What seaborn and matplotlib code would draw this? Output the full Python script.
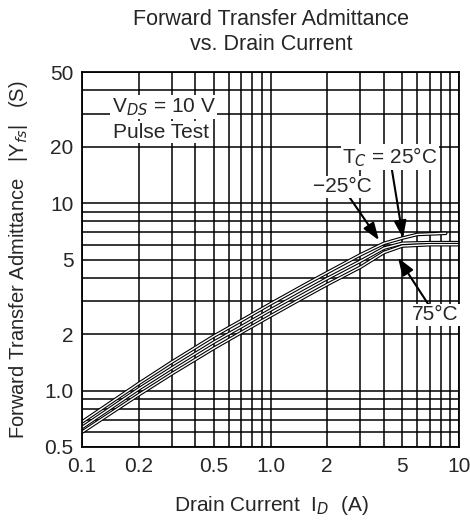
import numpy as np
import pandas as pd
import matplotlib
matplotlib.use("Agg")
import matplotlib.pyplot as plt
import matplotlib.patheffects as pe
import matplotlib.ticker as mticker
import seaborn as sns

# Drain current (A) and |Yfs| (S) per case temperature
id_main = [0.1, 0.2, 0.3, 0.5, 0.7, 1.0, 1.5, 2.0, 3.0, 4.0, 5.0, 7.0, 10.0]
yfs_25 = [0.635, 1.02, 1.32, 1.81, 2.19, 2.69, 3.38, 3.96, 4.9, 5.75, 6.1, 6.15, 6.15]
yfs_75 = [0.60, 0.95, 1.23, 1.68, 2.04, 2.5, 3.14, 3.68, 4.55, 5.45, 5.9, 6.0, 6.0]
id_cold = [0.1, 0.2, 0.3, 0.5, 0.7, 1.0, 1.5, 2.0, 3.0, 4.0, 5.0, 6.0, 8.5]
yfs_m25 = [0.68, 1.09, 1.42, 1.95, 2.36, 2.9, 3.64, 4.26, 5.3, 6.1, 6.5, 6.8, 6.9]

xticks = [0.1, 0.2, 0.5, 1.0, 2, 5, 10]
xtick_labels = ["0.1", "0.2", "0.5", "1.0", "2", "5", "10"]
yticks = [0.5, 1.0, 2, 5, 10, 20, 50]
ytick_labels = ["0.5", "1.0", "2", "5", "10", "20", "50"]

df = pd.concat([
    pd.DataFrame({"id": id_cold, "yfs": yfs_m25, "tc": "-25"}),
    pd.DataFrame({"id": id_main, "yfs": yfs_25, "tc": "25"}),
    pd.DataFrame({"id": id_main, "yfs": yfs_75, "tc": "75"}),
])

sns.set_style("white")
plt.rcParams["font.family"] = ["Liberation Sans", "DejaVu Sans"]
FS = 15

fig = plt.figure(figsize=(4.7, 5.22), dpi=100)
ax = fig.add_axes([82 / 470, 75 / 522, 377 / 470, 375 / 522])

ax.set_xscale("log")
ax.set_yscale("log")
ax.set_xlim(0.1, 10)
ax.set_ylim(0.5, 50)

# hollow-looking curves: white core over a black stroke
hollow = [pe.Stroke(linewidth=2.6, foreground="black"), pe.Normal()]
for tc in ["-25", "25", "75"]:
    d = df[df["tc"] == tc]
    sns.lineplot(data=d, x="id", y="yfs", ax=ax, color="white", lw=1.0,
                 estimator=None, sort=False, legend=False, path_effects=hollow)

for s in ax.spines.values():
    s.set_color("black")
    s.set_linewidth(1.3)

ax.set_xticks(xticks)
ax.set_xticklabels(xtick_labels)
ax.set_yticks(yticks)
ax.set_yticklabels(ytick_labels)
ax.xaxis.set_minor_locator(mticker.LogLocator(subs=np.arange(2, 10)))
ax.yaxis.set_minor_locator(mticker.LogLocator(subs=np.arange(2, 10)))
ax.xaxis.set_minor_formatter(mticker.NullFormatter())
ax.yaxis.set_minor_formatter(mticker.NullFormatter())
ax.tick_params(which="both", length=0, labelsize=FS)
ax.tick_params(axis="x", pad=7)
ax.tick_params(axis="y", pad=6)
ax.grid(True, which="both", color="black", lw=1.1)
ax.set_axisbelow(True)

ax.set_xlabel("Drain Current  I$_D$  (A)", fontsize=FS)
ax.set_ylabel("Forward Transfer Admittance   |Y$_{fs}$|   (S)", fontsize=14.5)
ax.xaxis.set_label_coords(0.503, -0.125)
ax.yaxis.set_label_coords(-0.138, 0.5)

fig.text(271 / 470, 1 - 32 / 522, "Forward Transfer Admittance\nvs. Drain Current",
         ha="center", va="center", fontsize=15.5, linespacing=1.2)

box = dict(facecolor="white", edgecolor="none", pad=1.0)
ax.text(0.144, 32.5, "V$_{DS}$ = 10 V", fontsize=FS, ha="left", va="center", bbox=box)
ax.text(0.146, 23.9, "Pulse Test", fontsize=FS, ha="left", va="center", bbox=box)

arrow = dict(arrowstyle="-|>,head_length=0.7,head_width=0.25", color="black", lw=1.5,
             shrinkA=0, shrinkB=0)
ax.annotate("T$_C$ = 25°C", xy=(5.05, 6.5), xytext=(2.4, 17.6), fontsize=FS,
            ha="left", va="center", bbox=box, arrowprops=arrow)
ax.annotate("−25°C", xy=(3.76, 6.34), xytext=(1.68, 12.2), fontsize=FS,
            ha="left", va="center", bbox=box, arrowprops=arrow)
ax.annotate("75°C", xy=(4.75, 5.1), xytext=(5.63, 2.53), fontsize=FS,
            ha="left", va="center", bbox=box, arrowprops=arrow)

fig.savefig("out.png", dpi=100)
